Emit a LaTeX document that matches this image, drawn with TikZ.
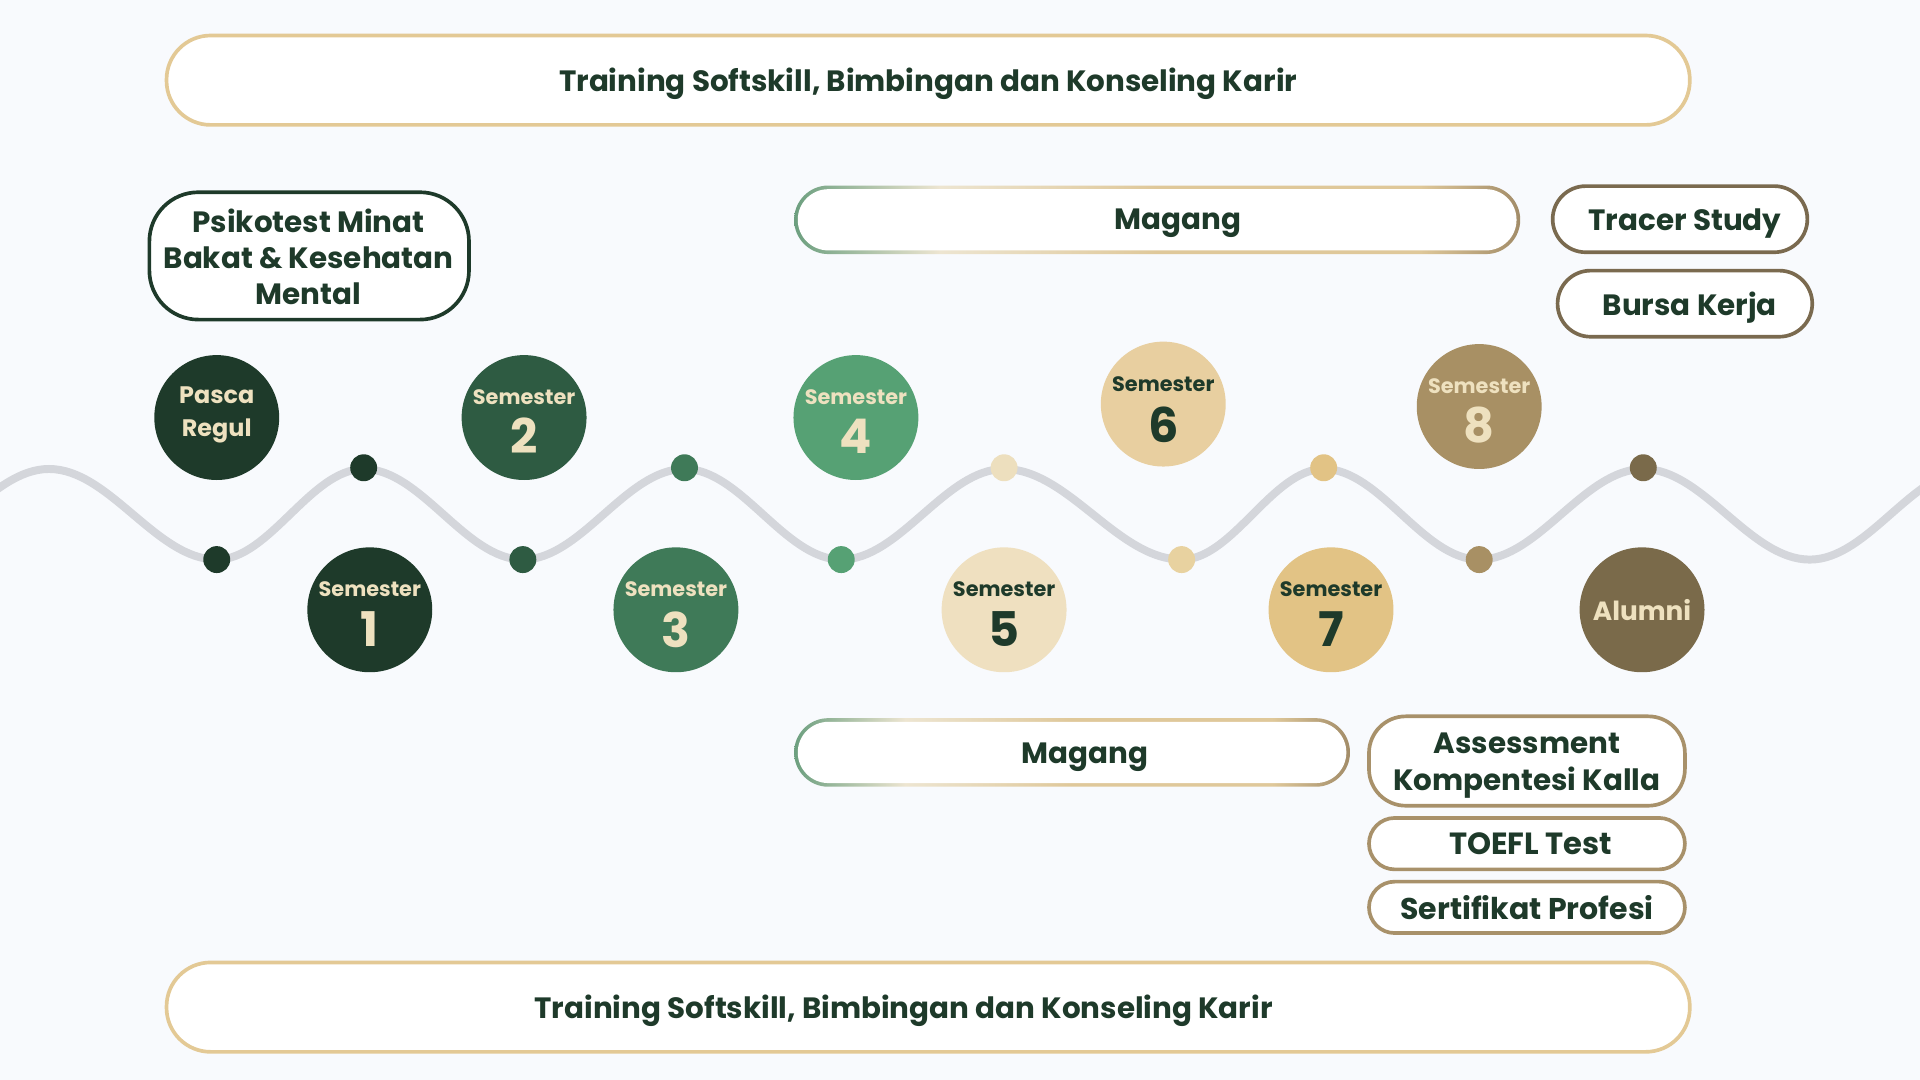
\documentclass[tikz,border=0pt]{standalone}
\usepackage{fontspec}
\setmainfont{Poppins}
\usetikzlibrary{calc}
\definecolor{bg}{HTML}{F8FAFD}
\definecolor{dk}{HTML}{1E3A2A}
\definecolor{cr}{HTML}{EEE1BF}
\definecolor{tanL}{HTML}{E3C995}
\definecolor{brn}{HTML}{7A6A4F}
\definecolor{tanB}{HTML}{A8916A}
\definecolor{wavec}{HTML}{D4D6DB}
\definecolor{gA}{HTML}{6C9F7F}
\definecolor{gCream}{HTML}{EDE5D1}
\definecolor{gTan}{HTML}{DFC89A}
\definecolor{gBr}{HTML}{A28C68}
\definecolor{c0}{HTML}{1E3A2A}
\definecolor{c2}{HTML}{2E5B42}
\definecolor{c3}{HTML}{3F7A58}
\definecolor{c4}{HTML}{56A174}
\definecolor{c5}{HTML}{EFE0C0}
\definecolor{c6}{HTML}{E8CFA0}
\definecolor{c7}{HTML}{E2C385}
\definecolor{c8}{HTML}{A89064}
\definecolor{c9}{HTML}{7A6A4A}
\definecolor{d6}{HTML}{EDDFBE}
\definecolor{d7}{HTML}{E8D2A0}
\pgfdeclarehorizontalshading{magshade}{100bp}{color(0bp)=(gA); color(25bp)=(gA); color(35bp)=(gCream); color(50bp)=(gTan); color(68bp)=(gTan); color(75bp)=(gBr); color(100bp)=(gBr)}
\tikzset{
  every node/.style={inner sep=0pt, outer sep=0pt},
  boxline/.style={draw, line width=3pt, fill=white, rounded corners=#1},
  lbl/.style={text=dk, font=\bfseries\fontsize{24}{29.5}\selectfont, text depth=0pt, align=center},
  circ/.style={circle, minimum size=102pt},
  wdot/.style={circle, minimum size=22pt},
  semt/.style={font=\bfseries\fontsize{17}{17}\selectfont, text depth=0pt},
  numt/.style={font=\bfseries\fontsize{39}{39}\selectfont, text depth=0pt},
  pasct/.style={font=\bfseries\fontsize{19.5}{19.5}\selectfont, text depth=0pt},
}
\begin{document}
\begin{tikzpicture}[x=1pt,y=-1pt]
\fill[bg] (0,0) rectangle (1568,882);
\useasboundingbox (0,0) rectangle (1568,882);

% wave
\begin{scope}
\clip (0,0) rectangle (1568,882);
\draw[wavec, line width=6.5pt]
 (-95,457) .. controls (-46.4,457) and (-8.6,383) .. (40,383)
 .. controls (89.3,383) and (127.7,457) .. (177,457)
 .. controls (220.2,457) and (253.8,383) .. (297,383)
 .. controls (343.8,383) and (380.2,457) .. (427,457)
 .. controls (474.5,457) and (511.5,383) .. (559,383)
 .. controls (605.1,383) and (640.9,457) .. (687,457)
 .. controls (734.9,457) and (772.1,383) .. (820,383)
 .. controls (872.2,383) and (912.8,457) .. (965,457)
 .. controls (1006.8,457) and (1039.2,383) .. (1081,383)
 .. controls (1126.7,383) and (1162.3,457) .. (1208,457)
 .. controls (1256.2,457) and (1293.8,383) .. (1342,383)
 .. controls (1391,383) and (1429,457) .. (1478,457)
 .. controls (1525.5,457) and (1562.5,383) .. (1610,383);
\end{scope}

% dots on wave
\node[wdot, fill=c0] (w1) at (177,457) {};
\node[wdot, fill=c0] (w2) at (297,382) {};
\node[wdot, fill=c2] (w3) at (427,457) {};
\node[wdot, fill=c3] (w4) at (559,382) {};
\node[wdot, fill=c4] (w5) at (687,457) {};
\node[wdot, fill=d6] (w6) at (820,382) {};
\node[wdot, fill=d7] (w7) at (965,457) {};
\node[wdot, fill=c7] (w8) at (1081,382) {};
\node[wdot, fill=c8] (w9) at (1208,457) {};
\node[wdot, fill=c9] (w10) at (1342,382) {};

% circles
\node[circ, fill=c0] (pr) at (177,341) {};
\node[pasct, text=cr] (prt1) at (177,323) {Pasca};
\node[pasct, text=cr] (prt2) at (177,349) {Regul};

\node[circ, fill=c0] (s1) at (302,498) {};
\node[semt, text=cr] (s1a) at (302,481) {Semester};
\node[numt, text=cr] (s1b) at (302,514) {1};

\node[circ, fill=c2] (s2) at (428,341) {};
\node[semt, text=cr] (s2a) at (428,324) {Semester};
\node[numt, text=cr] (s2b) at (428,356) {2};

\node[circ, fill=c3] (s3) at (552,498) {};
\node[semt, text=cr] (s3a) at (552,481) {Semester};
\node[numt, text=cr] (s3b) at (552,514) {3};

\node[circ, fill=c4] (s4) at (699,341) {};
\node[semt, text=cr] (s4a) at (699,324) {Semester};
\node[numt, text=cr] (s4b) at (699,356) {4};

\node[circ, fill=c5] (s5) at (820,498) {};
\node[semt, text=dk] (s5a) at (820,481) {Semester};
\node[numt, text=dk] (s5b) at (820,514) {5};

\node[circ, fill=c6] (s6) at (950,330) {};
\node[semt, text=dk] (s6a) at (950,314) {Semester};
\node[numt, text=dk] (s6b) at (950,347) {6};

\node[circ, fill=c7] (s7) at (1087,498) {};
\node[semt, text=dk] (s7a) at (1087,481) {Semester};
\node[numt, text=dk] (s7b) at (1087,514) {7};

\node[circ, fill=c8] (s8) at (1208,332) {};
\node[semt, text=cr] (s8a) at (1208,315) {Semester};
\node[numt, text=cr] (s8b) at (1208,347) {8};

\node[circ, fill=c9] (al) at (1341,498) {};
\node[pasct, font=\bfseries\fontsize{21.5}{21.5}\selectfont, text=cr] (alt) at (1341,498) {Alumni};

% boxes
\node[boxline=36pt, draw=tanL, minimum width=1244pt, minimum height=73pt] (ttop) at (758,65.5) {};
\node[lbl] (ttopt) at (758,65) {Training Softskill, Bimbingan dan Konseling Karir};

\node[boxline=40pt, draw=dk, minimum width=261pt, minimum height=104pt] (psi) at (252.5,209) {};
\node[lbl] (psit) at (252,209.5) {Psikotest Minat\\Bakat \& Kesehatan\\Mental};

\node[shading=magshade, rounded corners=28pt, minimum width=593pt, minimum height=56pt] (mag1o) at (945,179.5) {};
\node[fill=white, rounded corners=25pt, minimum width=587pt, minimum height=50pt] (mag1) at (945,179.5) {};
\node[lbl] (mag1t) at (962,179) {Magang};

\node[boxline=27pt, draw=brn, minimum width=208pt, minimum height=54pt] (tr) at (1372,179) {};
\node[lbl] (trt) at (1376,179) {Tracer Study};
\node[boxline=27pt, draw=brn, minimum width=208pt, minimum height=54pt] (bk) at (1376,248) {};
\node[lbl] (bkt) at (1380,248) {Bursa Kerja};

\node[shading=magshade, rounded corners=28pt, minimum width=454pt, minimum height=56pt] (mag2o) at (875.5,614.5) {};
\node[fill=white, rounded corners=25pt, minimum width=448pt, minimum height=50pt] (mag2) at (875.5,614.5) {};
\node[lbl] (mag2t) at (886,615) {Magang};

\node[boxline=30pt, draw=tanB, minimum width=258pt, minimum height=73pt] (as) at (1247,621.5) {};
\node[lbl, font=\bfseries\fontsize{24}{30}\selectfont] (ast) at (1247,622) {Assessment\\Kompentesi Kalla};
\node[boxline=21pt, draw=tanB, minimum width=258pt, minimum height=42pt] (to) at (1247,689) {};
\node[lbl, font=\bfseries\fontsize{25}{30}\selectfont] (tot) at (1250,689) {TOEFL Test};
\node[boxline=21pt, draw=tanB, minimum width=258pt, minimum height=42pt] (se) at (1247,741) {};
\node[lbl, font=\bfseries\fontsize{24.5}{30}\selectfont] (set) at (1247,741) {Sertifikat Profesi};

\node[boxline=36pt, draw=tanL, minimum width=1244pt, minimum height=73pt] (tbot) at (758,822.5) {};
\node[lbl] (tbott) at (738,822) {Training Softskill, Bimbingan dan Konseling Karir};
\end{tikzpicture}
\end{document}
